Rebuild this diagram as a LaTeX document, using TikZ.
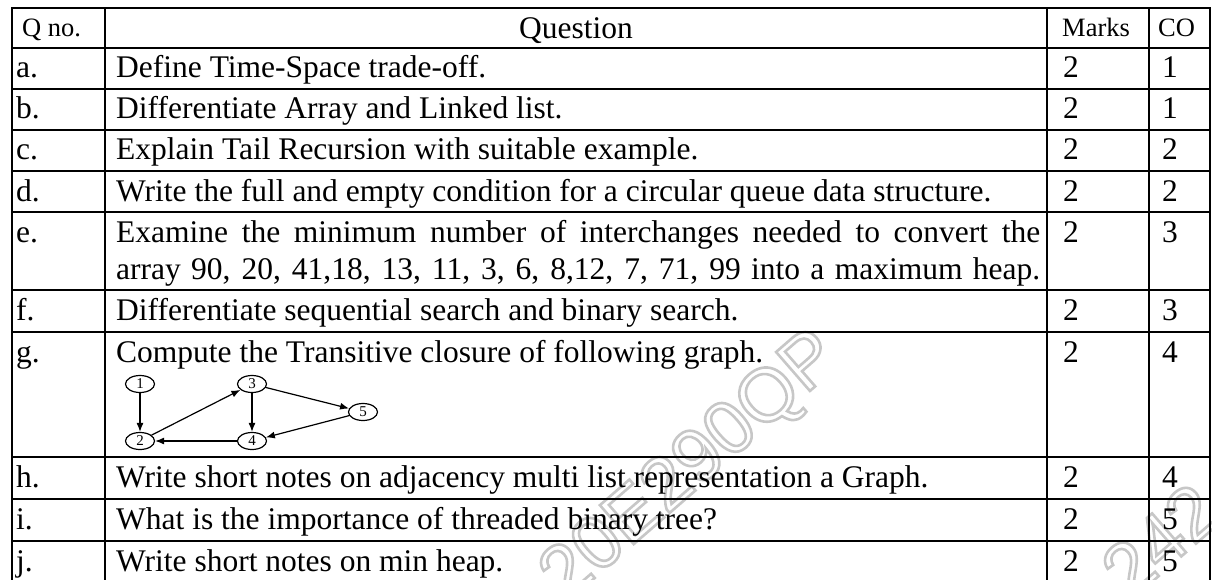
\documentclass[tikz,border=0pt]{standalone}
\usepackage{fontspec}
\setmainfont{Liberation Serif}
\newfontfamily\wmfont{Liberation Sans}
\usetikzlibrary{arrows.meta,shapes.geometric}

\newcommand{\hollow}[1]{\special{pdf:literal direct 1 Tr 2.6 w}#1\special{pdf:literal direct 0 Tr}}

\begin{document}
\begin{tikzpicture}[x=1pt, y=-1pt]
	\tikzstyle{txt}=[inner sep=0pt, anchor=base west, font=\fontsize{31.5}{37}\selectfont]
	\tikzstyle{hd}=[inner sep=0pt, anchor=base west, font=\fontsize{26.5}{30}\selectfont]
	\tikzstyle{vx}=[draw, ellipse, line width=1.2pt, minimum width=29pt, minimum height=17pt, inner sep=0pt, font=\fontsize{15}{15}\selectfont]
	\tikzstyle{wm}=[inner sep=0pt, anchor=base west, rotate=41, text=black!22, font=\wmfont\fontsize{75}{75}\selectfont]
	\tikzstyle{rule}=[line width=2.2pt, line cap=rect]
	\tikzstyle{arr}=[line width=1.2pt, -{Latex[length=9pt, width=7pt]}]
		\useasboundingbox (0,0) rectangle (1212,580);
		
		% watermark
		\node[wm] (wm1) at (566,603) {\hollow{20E290QP}};
		\node[wm] (wm2) at (1130,601) {\hollow{242}};
		
		%========================================================================
		% Rules
		\draw[rule] (12,8) -- (1210,8);
		\draw[rule] (12,48) -- (1210,48);
		\draw[rule] (12,89) -- (1210,89);
		\draw[rule] (12,130) -- (1210,130);
		\draw[rule] (12,171) -- (1210,171);
		\draw[rule] (12,212) -- (1210,212);
		\draw[rule] (12,290) -- (1210,290);
		\draw[rule] (12,332) -- (1210,332);
		\draw[rule] (12,457) -- (1210,457);
		\draw[rule] (12,499) -- (1210,499);
		\draw[rule] (12,541) -- (1210,541);
		
		\draw[rule] (12,8) -- (12,590);
		\draw[rule] (105,8) -- (105,590);
		\draw[rule] (1047,8) -- (1047,590);
		\draw[rule] (1149,8) -- (1149,590);
		\draw[rule] (1210,8) -- (1210,590);
		
		%========================================================================
		% Header
		\node[hd] (qno) at (22,37) {Q no.};
		\node[txt, anchor=base] (qhead) at (576,39) {Question};
		\node[hd] (mhead) at (1062,37) {Marks};
		\node[hd] (cohead) at (1158,37) {CO};
		
		% Rows
		\node[txt] (la) at (16,78) {a.};
		\node[txt] (qa) at (116,78) {Define Time-Space trade-off.};
		\node[txt] (ma) at (1063,78) {2};
		\node[txt] (ca) at (1162,78) {1};
		
		\node[txt] (lb) at (16,119) {b.};
		\node[txt] (qb) at (116,119) {Differentiate Array and Linked list.};
		\node[txt] (mb) at (1063,119) {2};
		\node[txt] (cb) at (1162,119) {1};
		
		\node[txt] (lc) at (16,160) {c.};
		\node[txt] (qc) at (116,160) {Explain Tail Recursion with suitable example.};
		\node[txt] (mc) at (1063,160) {2};
		\node[txt] (cc) at (1162,160) {2};
		
		\node[txt] (ld) at (16,201) {d.};
		\node[txt] (qd) at (116,201) {Write the full and empty condition for a circular queue data structure.};
		\node[txt] (md) at (1063,201) {2};
		\node[txt] (cd) at (1162,201) {2};
		
		\node[txt] (le) at (16,242) {e.};
		\node[txt] (qe) at (116,242) {\parbox[t]{924pt}{\parfillskip=0pt Examine the minimum number of interchanges needed to convert the\linebreak array 90, 20, 41,18, 13, 11, 3, 6, 8,12, 7, 71, 99 into a maximum heap.}};
		\node[txt] (me) at (1063,242) {2};
		\node[txt] (ce) at (1162,242) {3};
		
		\node[txt] (lf) at (16,320) {f.};
		\node[txt] (qf) at (116,320) {Differentiate sequential search and binary search.};
		\node[txt] (mf) at (1063,320) {2};
		\node[txt] (cf) at (1162,320) {3};
		
		\node[txt] (lg) at (16,362) {g.};
		\node[txt] (qg) at (116,362) {Compute the Transitive closure of following graph.};
		\node[txt] (mg) at (1063,362) {2};
		\node[txt] (cg) at (1162,362) {4};
		
		\node[txt] (lh) at (16,487) {h.};
		\node[txt] (qh) at (116,487) {Write short notes on adjacency multi list representation a Graph.};
		\node[txt] (mh) at (1063,487) {2};
		\node[txt] (ch) at (1162,487) {4};
		
		\node[txt] (li) at (16,529) {i.};
		\node[txt] (qi) at (116,529) {What is the importance of threaded binary tree?};
		\node[txt] (mi) at (1063,529) {2};
		\node[txt] (ci) at (1162,529) {5};
		
		\node[txt] (lj) at (16,571) {j.};
		\node[txt] (qj) at (116,571) {Write short notes on min heap.};
		\node[txt] (mj) at (1063,571) {2};
		\node[txt] (cj) at (1162,571) {5};
		
		%========================================================================
		% Graph
		\node[vx] (v1) at (140,384) {1};
		\node[vx] (v3) at (252,384) {3};
		\node[vx] (v5) at (363,412) {5};
		\node[vx] (v2) at (140,441) {2};
		\node[vx] (v4) at (252,441) {4};
		
		\draw[arr] (v1) to (v2);
		\draw[arr] (v2) to (v3);
		\draw[arr] (v3) to (v4);
		\draw[arr] (v3) to (v5);
		\draw[arr] (v5) to (v4);
		\draw[arr] (v4) to (v2);
	\end{tikzpicture}
\end{document}
